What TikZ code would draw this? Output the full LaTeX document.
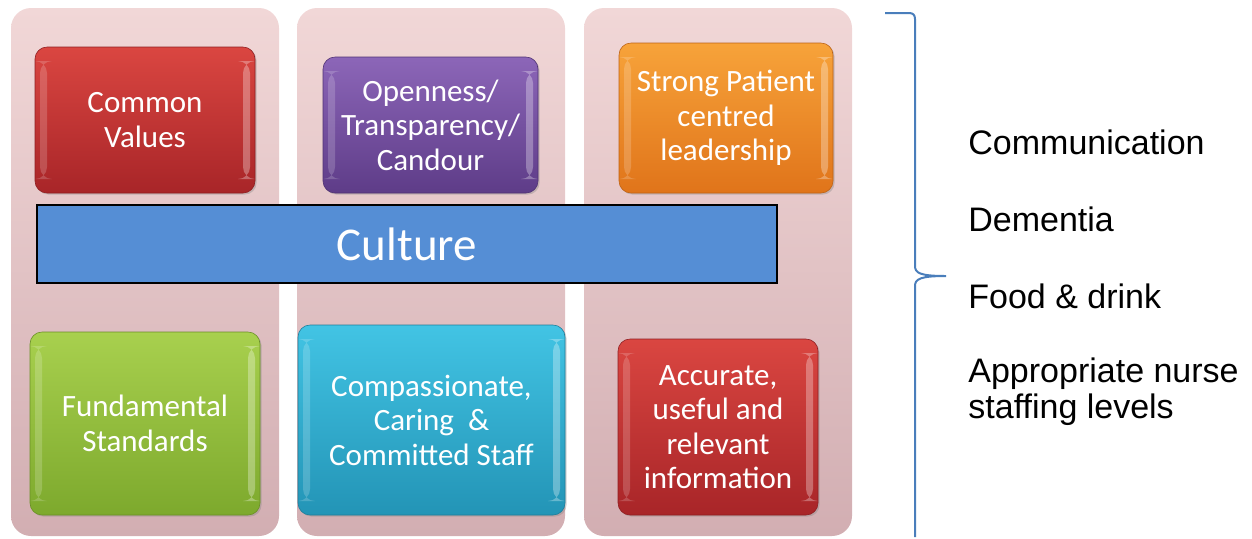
\documentclass[tikz,border=0pt]{standalone}
\usepackage{fontspec}
\setmainfont{Carlito}
\newfontfamily\listfont{Liberation Sans}
\usetikzlibrary{shadows}
\definecolor{pinktop}{HTML}{F1D7D7}
\definecolor{pinkbot}{HTML}{D2AEB2}
\definecolor{redtop}{HTML}{DA4641}
\definecolor{redbot}{HTML}{A82528}
\definecolor{purpletop}{HTML}{8C66B8}
\definecolor{purplebot}{HTML}{5E3C88}
\definecolor{orangetop}{HTML}{F7A33A}
\definecolor{orangebot}{HTML}{E0741A}
\definecolor{greentop}{HTML}{A8D04E}
\definecolor{greenbot}{HTML}{7DA92D}
\definecolor{cyantop}{HTML}{42C4E4}
\definecolor{cyanbot}{HTML}{2394B6}
\definecolor{culturefill}{HTML}{558ED5}
\definecolor{braceblue}{HTML}{4A7EBB}

\begin{document}
\begin{tikzpicture}[x=0.5pt,y=-0.5pt,
		pillar/.style={rounded corners=10pt, top color=pinktop, bottom color=pinkbot, minimum width=134pt, minimum height=264pt, inner sep=0pt},
		tile/.style 2 args={rounded corners=6pt, top color=#1, bottom color=#2, draw=#2!85!black, line width=0.3pt, text=white, align=center, inner sep=0pt, font=\fontsize{15.5}{17.25}\selectfont, drop shadow={opacity=0.35, shadow xshift=0.8pt, shadow yshift=-0.8pt},
			path picture={\fill[white,opacity=.18] ([xshift=2.5pt,yshift=-7pt]path picture bounding box.north west) rectangle ([xshift=6pt,yshift=7pt]path picture bounding box.south west);
				\fill[white,opacity=.3] ([xshift=-6pt,yshift=-7pt]path picture bounding box.north east) rectangle ([xshift=-2.5pt,yshift=7pt]path picture bounding box.south east);}},
		item/.style={anchor=west, inner sep=0pt, align=left, font=\listfont\fontsize{17}{18}\selectfont},
		brace/.style={draw=braceblue, line width=1pt}]
	\useasboundingbox (0,0) rectangle (1252,538);

	\node[pillar] (col1) at (145,272) {};
	\node[pillar] (col2) at (431,272) {};
	\node[pillar] (col3) at (718,272) {};

	\node[tile={redtop}{redbot}, minimum width=110pt, minimum height=73pt] (values) at (145,120) {Common\\Values};
	\node[tile={purpletop}{purplebot}, minimum width=107.5pt, minimum height=68pt] (openness) at (430.5,125) {Openness/\\Transparency/\\Candour};
	\node[tile={orangetop}{orangebot}, minimum width=107pt, minimum height=75pt] (leadership) at (726,118) {Strong Patient\\centred\\leadership};

	\node[draw=black, line width=0.6pt, fill=culturefill, text=white, minimum width=370pt, minimum height=39pt, font=\fontsize{23.5}{28}\selectfont] (culture) at (407,244) {Culture};

	\node[tile={greentop}{greenbot}, minimum width=115pt, minimum height=91.5pt] (standards) at (145,423.5) {Fundamental\\Standards};
	\node[tile={cyantop}{cyanbot}, minimum width=133.5pt, minimum height=95pt] (staff) at (431.5,420) {Compassionate,\\Caring \ \& \\Committed Staff};
	\node[tile={redtop}{redbot}, minimum width=100pt, minimum height=88pt] (information) at (718,427) {Accurate,\\useful and\\relevant\\information};

	\coordinate (braceTop) at (885,13);
	\coordinate (braceTip) at (946,276);
	\coordinate (braceBot) at (915,537);
	\draw[brace] (braceTop) -- (909,13) .. controls (913,13) and (915,15) .. (915,19) -- (915,266) .. controls (915,273) and (920,276) .. (braceTip) .. controls (920,276) and (915,279) .. (915,286) -- (braceBot);

	\node[item] (communication) at (968,142) {Communication};
	\node[item] (dementia) at (968,219) {Dementia};
	\node[item] (food) at (968,296) {Food \& drink};
	\node[item] (staffing) at (968,392) {Appropriate nurse\\staffing levels};
\end{tikzpicture}
\end{document}
